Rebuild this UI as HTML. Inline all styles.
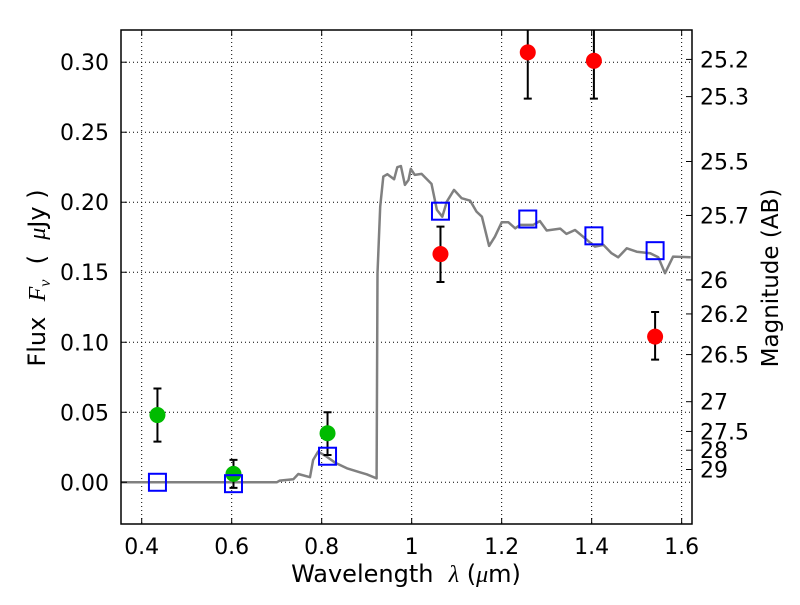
<!DOCTYPE html>
<html><head><meta charset="utf-8"><style>
body{margin:0;background:#fff}
svg text{font-family:"DejaVu Sans","Liberation Sans",sans-serif;fill:#000}
</style></head><body>
<svg id="chart" width="800" height="600" viewBox="0 0 800 600" xmlns="http://www.w3.org/2000/svg">
<defs><clipPath id="clip"><rect x="121" y="30" width="571" height="494"/></clipPath></defs>
<rect width="800" height="600" fill="#fff"/>
<g id="grid"></g>
<g id="plot" clip-path="url(#clip)"></g>
<g id="axes"></g>
</svg>
<script>
const specWl=[0.354,0.70,0.707,0.737,0.748,0.774,0.781,0.792,0.811,0.830,0.856,0.885,0.900,0.922,0.924,0.930,0.937,0.946,0.961,0.968,0.976,0.985,0.993,0.998,1.007,1.022,1.044,1.056,1.068,1.078,1.094,1.111,1.130,1.144,1.156,1.172,1.185,1.200,1.215,1.230,1.241,1.270,1.285,1.300,1.330,1.344,1.363,1.381,1.407,1.426,1.444,1.459,1.478,1.500,1.530,1.548,1.563,1.581,1.620];
const specFlux=[0,0,0.0012,0.0021,0.0059,0.0036,0.0159,0.0219,0.0183,0.0140,0.0100,0.0071,0.0057,0.0028,0.1493,0.1969,0.2183,0.2200,0.2164,0.2250,0.2259,0.2124,0.2159,0.2238,0.2195,0.2202,0.2131,0.1945,0.1897,0.2004,0.2088,0.2029,0.2011,0.1933,0.1897,0.1688,0.1754,0.1857,0.1857,0.1814,0.1838,0.1838,0.1865,0.1798,0.1812,0.1774,0.1802,0.1754,0.1683,0.1695,0.1636,0.1607,0.1671,0.1647,0.1636,0.1607,0.1493,0.1612,0.1607];
const greenWl=[0.435,0.604,0.813];
const greenFlux=[0.048,0.006,0.035];
const greenLo=[0.029,-0.004,0.0195];
const greenHi=[0.067,0.016,0.050];
const redWl=[1.064,1.258,1.405,1.541];
const redFlux=[0.163,0.307,0.301,0.104];
const redLo=[0.143,0.274,0.274,0.0876];
const redHi=[0.1826,0.34,0.34,0.1216];
const modelWl=[0.435,0.604,0.813,1.064,1.258,1.405,1.541];
const modelFlux=[0.0,-0.001,0.0186,0.1936,0.188,0.176,0.1654];
const xTicks=[0.4,0.6,0.8,1.0,1.2,1.4,1.6];
const xTickLabels=["0.4","0.6","0.8","1","1.2","1.4","1.6"];
const yTicks=[0,0.05,0.10,0.15,0.20,0.25,0.30];
const yTickLabels=["0.00","0.05","0.10","0.15","0.20","0.25","0.30"];
const magTicks=[25.2,25.3,25.5,25.7,26,26.2,26.5,27,27.5,28,29];
const magLabels=["25.2","25.3","25.5","25.7","26","26.2","26.5","27","27.5","28","29"];

const L=121,R=692,T=30,B=524;
const X0=0.354,X1=1.623,Y0=-0.0298,Y1=0.323;
const sx=v=>L+(v-X0)/(X1-X0)*(R-L);
const sy=v=>B-(v-Y0)/(Y1-Y0)*(B-T);
const NS="http://www.w3.org/2000/svg";
function mk(tag,attrs,parent,txt){const e=document.createElementNS(NS,tag);for(const k in attrs)e.setAttribute(k,attrs[k]);if(txt!==undefined)e.textContent=txt;document.getElementById(parent).appendChild(e);return e;}

xTicks.forEach((v,i)=>{const g=mk('line',{x1:sx(v),x2:sx(v),y1:T,y2:B,stroke:'#000','stroke-width':1,'stroke-dasharray':'1,3'},'grid');

});
yTicks.forEach((v,i)=>{const g=mk('line',{x1:L,x2:R,y1:sy(v),y2:sy(v),stroke:'#000','stroke-width':1,'stroke-dasharray':'1,3'},'grid');

});

const pts=specWl.map((w,i)=>sx(w).toFixed(1)+','+sy(specFlux[i]).toFixed(1)).join(' ');
const sp=mk('polyline',{points:pts,fill:'none',stroke:'#808080','stroke-width':2.5,'stroke-linejoin':'round'},'plot');



function errbar(x,lo,hi){
  const g=mk('path',{d:`M${x},${sy(lo)}V${sy(hi)}M${x-4},${sy(lo)}H${x+4}M${x-4},${sy(hi)}H${x+4}`,stroke:'#000','stroke-width':2,fill:'none'},'plot');
  
  
}
greenWl.forEach((w,i)=>{errbar(sx(w),greenLo[i],greenHi[i]);
  const c=mk('circle',{cx:sx(w),cy:sy(greenFlux[i]),r:8,fill:'#00bb00'},'plot');
  
  });
redWl.forEach((w,i)=>{errbar(sx(w),redLo[i],redHi[i]);
  const c=mk('circle',{cx:sx(w),cy:sy(redFlux[i]),r:8,fill:'#ff0000'},'plot');
  
  });
modelWl.forEach((w,i)=>{
  const r=mk('rect',{x:sx(w)-8.5,y:sy(modelFlux[i])-8.5,width:17,height:17,fill:'none',stroke:'#0000ff','stroke-width':2},'plot');
  
  });

const fr=mk('rect',{x:L,y:T,width:R-L,height:B-T,fill:'none',stroke:'#000','stroke-width':1.5},'axes');



xTicks.forEach((v,i)=>{
  mk('path',{d:`M${sx(v)},${B}v-6M${sx(v)},${T}v6`,stroke:'#000'},'axes');
  const t=mk('text',{x:sx(v),y:B+30,'font-size':22,'text-anchor':'middle'},'axes',xTickLabels[i]);
  
  });
yTicks.forEach((v,i)=>{
  mk('path',{d:`M${L},${sy(v)}h6`,stroke:'#000'},'axes');
  const t=mk('text',{x:L-12,y:sy(v)+8,'font-size':22,'text-anchor':'end'},'axes',yTickLabels[i]);
  
  });
magTicks.forEach((m,i)=>{
  const f=Math.pow(10,(23.9-m)/2.5);
  mk('path',{d:`M${R},${sy(f)}h-6`,stroke:'#000'},'axes');
  const t=mk('text',{x:R+8,y:sy(f)+8,'font-size':22},'axes',magLabels[i]);
  
  });

const xl=mk('text',{x:406,y:582,'font-size':24,'text-anchor':'middle'},'axes');
xl.innerHTML='Wavelength\u00a0\u00a0<tspan font-style="italic" font-family="Liberation Serif">λ</tspan> (<tspan font-style="italic" font-family="Liberation Serif">μ</tspan>m)';


const yl=mk('text',{x:0,y:0,'font-size':24,'text-anchor':'middle',transform:'translate(45,278) rotate(-90)'},'axes');
yl.innerHTML='Flux\u00a0\u00a0<tspan font-style="italic" font-family="Liberation Serif">F</tspan><tspan font-style="italic" font-family="Liberation Serif" font-size="16" dy="5">ν</tspan><tspan dy="-5">\u00a0\u00a0(\u00a0\u00a0</tspan><tspan font-style="italic" font-family="Liberation Serif">μ</tspan>Jy\u00a0)';


const rl=mk('text',{x:0,y:0,'font-size':23,'text-anchor':'middle',transform:'translate(778,278) rotate(-90)'},'axes','Magnitude (AB)');


</script>
</body></html>
